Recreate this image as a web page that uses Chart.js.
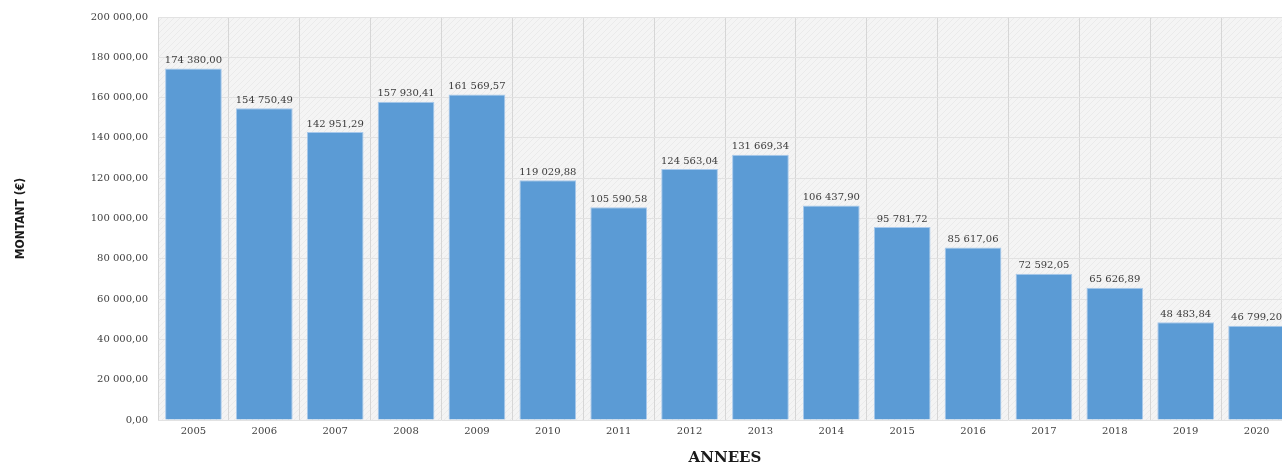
<!DOCTYPE html>
<html lang="fr">
<head>
    <meta charset="UTF-8">
    <title>Montant par année</title>
    <script src="https://cdn.jsdelivr.net/npm/chart.js@4.4.0/dist/chart.umd.min.js"></script>
    <style>
        html, body { margin: 0; padding: 0; background: #fff; overflow: hidden; }
        #chart-container { width: 1292px; height: 463px; position: relative; }
    </style>
</head>
<body>
    <div id="chart-container">
        <canvas id="montant-chart"></canvas>
    </div>

    <script>
        // data
        const ANNEES = ['2005', '2006', '2007', '2008', '2009', '2010', '2011', '2012',
                        '2013', '2014', '2015', '2016', '2017', '2018', '2019', '2020'];
        const MONTANTS = [174380.00, 154750.49, 142951.29, 157930.41, 161569.57, 119029.88,
                          105590.58, 124563.04, 131669.34, 106437.90, 95781.72, 85617.06,
                          72592.05, 65626.89, 48483.84, 46799.20];
        const Y_TITLE = 'MONTANT (€)';
        const X_TITLE = 'ANNEES';

        const SERIF = "'DejaVu Serif', 'Liberation Serif', serif";

        // french style: 174 380,00
        function fmt(v) {
            const parts = v.toFixed(2).split('.');
            const ent = parts[0].replace(/\B(?=(\d{3})+(?!\d))/g, ' ');
            return ent + ',' + parts[1];
        }

        function hatchPattern(ctx) {
            const c = document.createElement('canvas');
            c.width = 6; c.height = 6;
            const p = c.getContext('2d');
            p.fillStyle = '#f4f4f4';
            p.fillRect(0, 0, 6, 6);
            p.strokeStyle = '#eaeaea';
            p.lineWidth = 1;
            p.beginPath();
            p.moveTo(0, 6); p.lineTo(6, 0);
            p.stroke();
            return ctx.createPattern(c, 'repeat');
        }

        const plotBg = {
            id: 'plotBg',
            beforeDraw(chart) {
                const { ctx, chartArea: a } = chart;
                ctx.save();
                ctx.fillStyle = hatchPattern(ctx);
                ctx.fillRect(a.left, a.top, a.right - a.left, a.bottom - a.top);
                ctx.restore();
            }
        };

        const valueLabels = {
            id: 'valueLabels',
            afterDatasetsDraw(chart) {
                const { ctx } = chart;
                const meta = chart.getDatasetMeta(0);
                ctx.save();
                ctx.font = '10px ' + SERIF;
                ctx.fillStyle = '#3a3a3a';
                ctx.textAlign = 'center';
                ctx.textBaseline = 'bottom';
                meta.data.forEach((bar, i) => {
                    ctx.fillText(fmt(MONTANTS[i]), bar.x, bar.y - 3);
                });
                ctx.restore();
            }
        };

        const ctx = document.getElementById('montant-chart').getContext('2d');
        new Chart(ctx, {
            type: 'bar',
            data: {
                labels: ANNEES,
                datasets: [{
                    data: MONTANTS,
                    backgroundColor: '#5b9bd5',
                    borderColor: '#a8c9ec',
                    borderWidth: 1,
                    barPercentage: 0.8,
                    categoryPercentage: 1.0
                }]
            },
            options: {
                responsive: true,
                maintainAspectRatio: false,
                animation: false,
                layout: { padding: { top: 17, right: 0, bottom: 0, left: 0 } },
                plugins: {
                    legend: { display: false },
                    tooltip: { enabled: false }
                },
                scales: {
                    x: {
                        grid: { color: '#d6d6d6', offset: true, drawTicks: false },
                        border: { display: false },
                        ticks: { color: '#404040', font: { family: SERIF, size: 10 }, padding: 5 },
                        title: {
                            display: true, text: X_TITLE, color: '#1a1a1a',
                            font: { family: SERIF, size: 15, weight: 'bold', lineHeight: 1 },
                            padding: { top: 10, bottom: -3 }
                        },
                        afterFit(scale) { scale.height = 43; }
                    },
                    y: {
                        min: 0,
                        max: 200000,
                        grid: { color: '#e2e2e2', drawTicks: false },
                        border: { display: false },
                        ticks: {
                            stepSize: 20000,
                            color: '#404040',
                            padding: 10,
                            font: { family: SERIF, size: 10 },
                            callback: v => fmt(v)
                        },
                        title: {
                            display: true, text: Y_TITLE, color: '#1a1a1a',
                            font: { family: "'DejaVu Sans Condensed', 'Liberation Sans Narrow', sans-serif", size: 12, weight: 'bold' },
                            padding: { top: 14, bottom: 0 }
                        },
                        afterFit(scale) { scale.width = 158; }
                    }
                }
            },
            plugins: [plotBg, valueLabels]
        });
    </script>
</body>
</html>
